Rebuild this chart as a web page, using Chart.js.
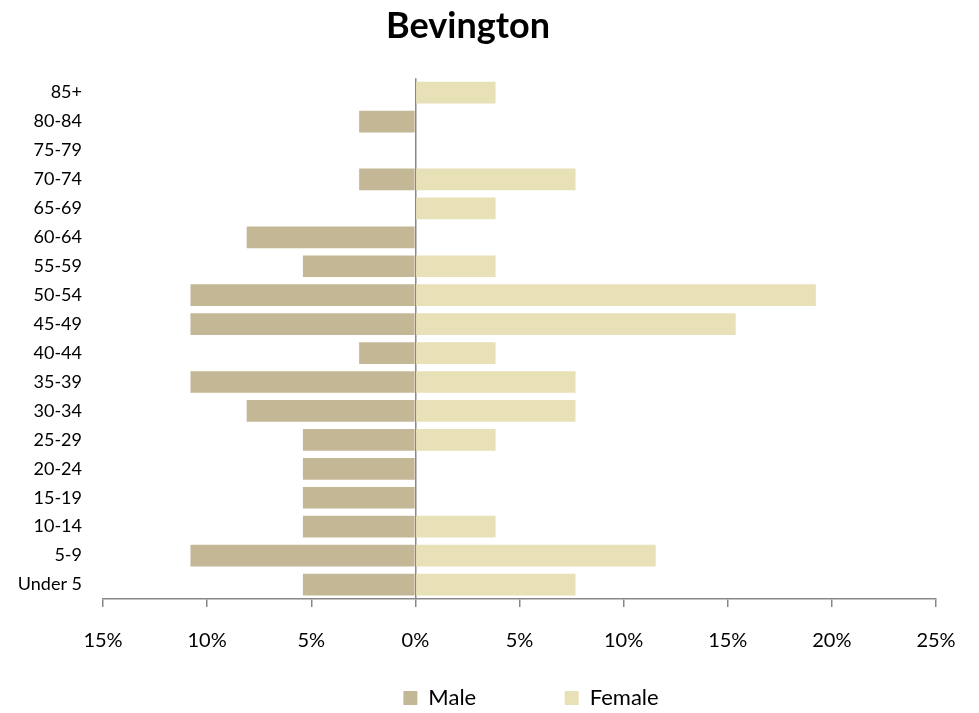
<!DOCTYPE html>
<html>
<head>
<meta charset="utf-8">
<script src="https://cdn.jsdelivr.net/npm/chart.js@4/dist/chart.umd.min.js"></script>
<style>
  html, body { margin: 0; padding: 0; background: #fff; }
  #wrap { width: 979px; height: 713px; }
</style>
</head>
<body>
<div id="wrap"><canvas id="pyramid"></canvas></div>
<script>
// age groups, top to bottom
var ageGroups = ['85+', '80-84', '75-79', '70-74', '65-69', '60-64', '55-59', '50-54', '45-49',
                 '40-44', '35-39', '30-34', '25-29', '20-24', '15-19', '10-14', '5-9', 'Under 5'];
// percent of population
var malePct   = [0, 2.7, 0, 2.7, 0, 8.1, 5.4, 10.8, 10.8, 2.7, 10.8, 8.1, 5.4, 5.4, 5.4, 5.4, 10.8, 5.4];
var femalePct = [3.85, 0, 0, 7.69, 3.85, 0, 3.85, 19.23, 15.38, 3.85, 7.69, 7.69, 3.85, 0, 0, 3.85, 11.54, 7.69];
var xTicks = [-15, -10, -5, 0, 5, 10, 15, 20, 25];

var axisGrey = '#888888';
var font = 'Lato, "Open Sans", sans-serif';

// move the legend a bit lower and to the right, as in the original
var legendNudge = {
    id: 'legendNudge',
    afterLayout: function (chart) {
        var lg = chart.legend;
        if (!lg) { return; }
        lg.top += 6; lg.bottom += 6;
        lg.left += 63; lg.right += 63;
    }
};

new Chart(document.getElementById('pyramid'), {
    type: 'bar',
    data: {
        labels: ageGroups,
        datasets: [
            { label: 'Male', data: malePct.map(function (v) { return -v; }), backgroundColor: '#c4b795', borderWidth: 0 },
            { label: 'Female', data: femalePct, backgroundColor: '#e8e0b6', borderWidth: 0 }
        ]
    },
    plugins: [legendNudge],
    options: {
        indexAxis: 'y',
        responsive: true,
        maintainAspectRatio: false,
        animation: false,
        barPercentage: 0.75,
        categoryPercentage: 1,
        layout: { padding: { left: 0, right: 43, top: 0, bottom: 0 } },
        plugins: {
            title: {
                display: true, text: 'Bevington', color: '#000',
                font: { family: font, size: 36, weight: 'bold' },
                padding: { top: 5, bottom: 30 }
            },
            legend: {
                position: 'bottom',
                labels: {
                    color: '#000', font: { family: font, size: 22 }, boxWidth: 14, boxHeight: 14, padding: 6,
                    generateLabels: function (chart) {
                        var items = Chart.defaults.plugins.legend.labels.generateLabels(chart);
                        items[0].text = items[0].text + '\u2003\u2003\u2003\u2003\u2003';
                        return items;
                    }
                }
            },
            tooltip: { enabled: false }
        },
        scales: {
            x: {
                stacked: true, min: -15, max: 25,
                afterBuildTicks: function (scale) { scale.ticks = xTicks.map(function (v) { return { value: v }; }); },
                ticks: {
                    color: '#000', padding: 22, font: { family: font, size: 20 },
                    callback: function (v) { return Math.abs(v) + '%'; }
                },
                grid: {
                    drawOnChartArea: true, tickLength: 8, tickColor: axisGrey, tickWidth: 1.5,
                    color: function (c) { return c.tick && c.tick.value === 0 ? axisGrey : 'rgba(0,0,0,0)'; },
                    lineWidth: 1.5
                },
                border: { display: true, color: axisGrey, width: 1.5 }
            },
            y: {
                stacked: true,
                afterFit: function (scale) { scale.width = 103; },
                ticks: { color: '#000', padding: 13, font: { family: font, size: 18 } },
                grid: { display: false },
                border: { display: false }
            }
        }
    }
});
</script>
</body>
</html>
